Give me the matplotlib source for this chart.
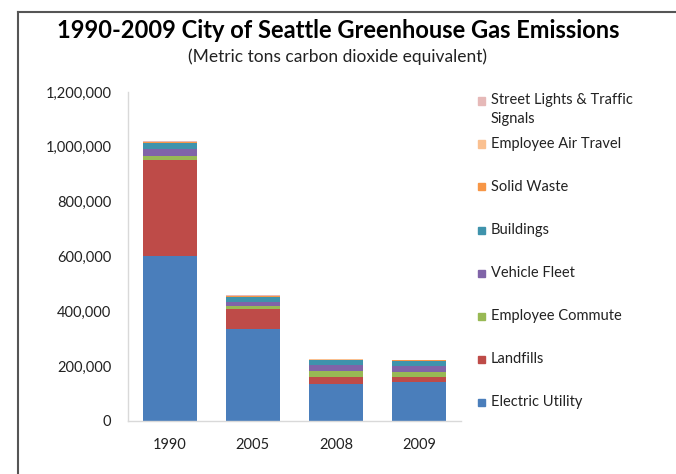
import matplotlib
matplotlib.use("Agg")
import matplotlib.pyplot as plt
from matplotlib.patches import Rectangle
from matplotlib.lines import Line2D
from matplotlib.ticker import FuncFormatter

plt.rcParams["font.family"] = ["Lato", "DejaVu Sans"]

# --- data (metric tons CO2e) ---
years = ["1990", "2005", "2008", "2009"]
categories = ["Electric Utility", "Landfills", "Employee Commute", "Vehicle Fleet",
              "Buildings", "Solid Waste", "Employee Air Travel",
              "Street Lights & Traffic\nSignals"]
electric_utility = [602000, 335000, 136000, 143000]
landfills = [350000, 73000, 23000, 18000]
employee_commute = [16000, 11000, 24000, 16000]
vehicle_fleet = [23000, 16000, 21000, 24000]
buildings = [24000, 18000, 18000, 18000]
solid_waste = [2000, 2000, 2000, 2000]
employee_air_travel = [1500, 2000, 2000, 1500]
street_lights = [1000, 1500, 1500, 1000]

series = [electric_utility, landfills, employee_commute, vehicle_fleet,
          buildings, solid_waste, employee_air_travel, street_lights]
colors = ["#4A7EBB", "#BE4B48", "#98B954", "#8064A8",
          "#3F93AC", "#F79646", "#FAC090", "#E6B9B8"]

W, H = 676, 474
fig = plt.figure(figsize=(W / 100, H / 100), dpi=100)
ax = fig.add_axes([128 / W, (H - 421) / H, (461 - 128) / W, (421 - 92) / H])

x = range(len(years))
bottom = [0] * len(years)
for vals, c in zip(series, colors):
    ax.bar(x, vals, width=0.65, bottom=bottom, color=c, edgecolor="none")
    bottom = [b + v for b, v in zip(bottom, vals)]

ax.set_ylim(0, 1200000)
ax.set_xlim(-0.5, len(years) - 0.5)
ax.set_yticks(range(0, 1200001, 200000))
ax.yaxis.set_major_formatter(FuncFormatter(lambda v, p: f"{int(v):,}"))
ax.set_xticks(list(x))
ax.set_xticklabels(years)
ax.tick_params(length=0, labelsize=10.5, colors="#222222")
ax.tick_params(axis="y", pad=12)
ax.tick_params(axis="x", pad=12)
for s in ["top", "right"]:
    ax.spines[s].set_visible(False)
for s in ["left", "bottom"]:
    ax.spines[s].set_color("#D9D9D9")
    ax.spines[s].set_linewidth(1.0)

# titles
fig.text(338 / W, 1 - 30 / H, "1990-2009 City of Seattle Greenhouse Gas Emissions",
         ha="center", va="center", fontsize=17, fontweight="bold", color="black")
fig.text(338 / W, 1 - 57 / H, "(Metric tons carbon dioxide equivalent)",
         ha="center", va="center", fontsize=12.5, color="#222222")

# legend (top entry = last series)
for i, (lab, c) in enumerate(zip(categories, colors)):
    yc = 402 - 43 * i
    fig.patches.append(Rectangle((478 / W, 1 - (yc + 3.5) / H), 7 / W, 7 / H,
                                 transform=fig.transFigure, color=c))
    if "\n" in lab:
        fig.text(491 / W, 1 - (yc - 8) / H, lab, ha="left", va="top",
                 fontsize=10.5, color="#222222", linespacing=1.5)
    else:
        fig.text(491 / W, 1 - yc / H, lab, ha="left", va="center",
                 fontsize=10.5, color="#222222")

# outer frame (left and top edges visible)
fig.add_artist(Line2D([18 / W, 18 / W], [0, 1 - 12 / H], transform=fig.transFigure,
                      color="#555555", lw=1.5))
fig.add_artist(Line2D([18 / W, 1], [1 - 12 / H, 1 - 12 / H], transform=fig.transFigure,
                      color="#555555", lw=1.5))

fig.savefig("out.png", dpi=100)
